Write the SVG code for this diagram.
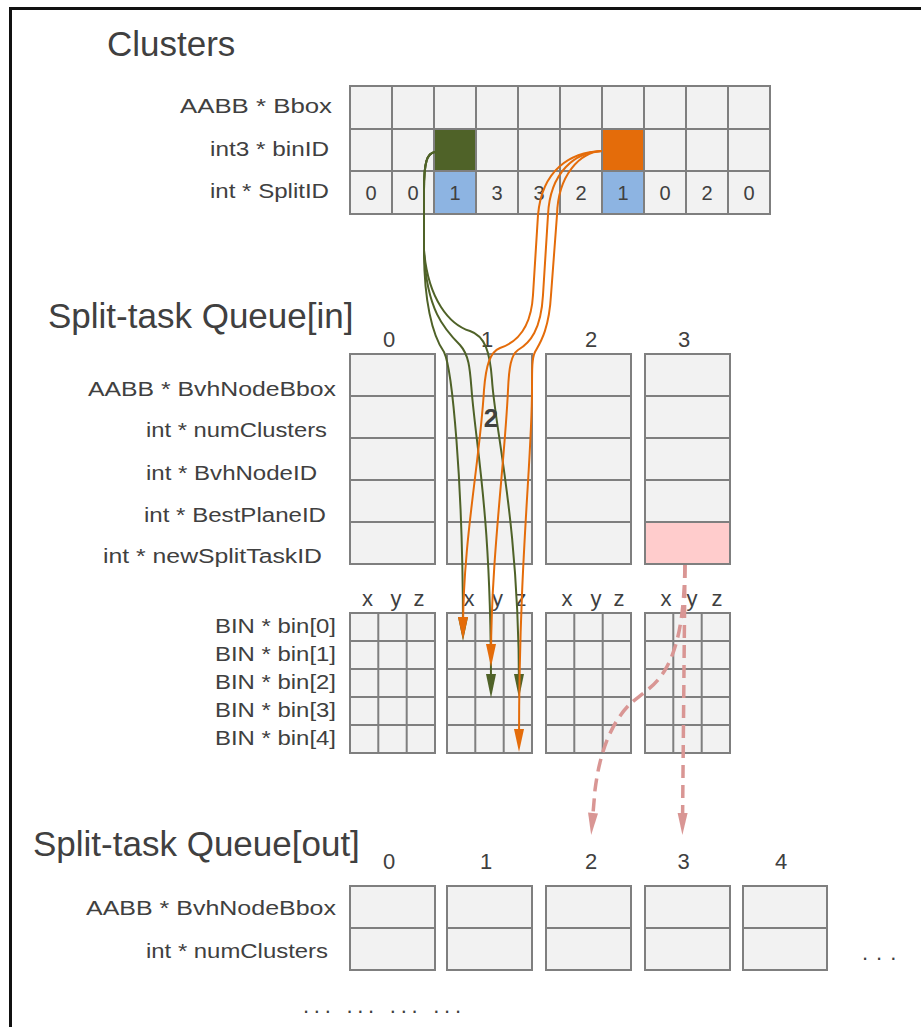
<svg xmlns="http://www.w3.org/2000/svg" width="921" height="1027" viewBox="0 0 921 1027">
<style>
.cell{fill:#F2F2F2;stroke:#7F7F7F;stroke-width:2}
.grid{fill:none;stroke:#7F7F7F;stroke-width:2}
text{font-family:"Liberation Sans",Arial,sans-serif;fill:#404040}
.lbl{font-size:20px}
.bin{font-size:21px}
.title{font-size:35px}
.num{font-size:20px;text-anchor:middle}
.hdr{font-size:22px;text-anchor:middle}
.g{fill:none;stroke:#4F6228;stroke-width:2;marker-end:url(#ag)}
.o{fill:none;stroke:#E46C0A;stroke-width:2;marker-end:url(#ao)}
.p{fill:none;stroke:#D99694;stroke-width:3.5;stroke-dasharray:13 7;marker-end:url(#ap)}
</style>
<defs>
<marker id="ag" markerUnits="userSpaceOnUse" markerWidth="24" markerHeight="10" refX="13" refY="5" orient="auto" overflow="visible"><path d="M0,0L24,5L0,10z" fill="#4F6228"/></marker>
<marker id="ao" markerUnits="userSpaceOnUse" markerWidth="24" markerHeight="10" refX="13" refY="5" orient="auto" overflow="visible"><path d="M0,0L23,5L0,10z" fill="#E46C0A"/></marker>
<marker id="ap" markerUnits="userSpaceOnUse" markerWidth="22" markerHeight="10" refX="12" refY="5" orient="auto" overflow="visible"><path d="M0,0L22,5L0,10z" fill="#D99694"/></marker>
</defs>
<rect width="921" height="1027" fill="#FFFFFF"/>
<path d="M10.5,1040V8.5H940" fill="none" stroke="#111" stroke-width="3"/>

<g id="titles">
<text class="title" x="107" y="56">Clusters</text>
<text class="title" x="48" y="328">Split-task Queue[in]</text>
<text class="title" x="33" y="856">Split-task Queue[out]</text>
</g>

<g id="clusters">
<rect x="350" y="86" width="420" height="128" class="cell"/>
<rect x="434" y="129" width="42" height="42" fill="#4F6228"/>
<rect x="602" y="129" width="42" height="42" fill="#E46C0A"/>
<rect x="434" y="171" width="42" height="43" fill="#8DB4E2"/>
<rect x="602" y="171" width="42" height="43" fill="#8DB4E2"/>
<path class="grid" d="M350,86H770V214H350Z M392,86V214 M434,86V214 M476,86V214 M518,86V214 M560,86V214 M602,86V214 M644,86V214 M686,86V214 M728,86V214 M350,129H770 M350,171H770"/>
<text class="lbl" x="180" y="113" textLength="152" lengthAdjust="spacingAndGlyphs">AABB * Bbox</text>
<text class="lbl" x="210" y="156" textLength="119" lengthAdjust="spacingAndGlyphs">int3 * binID</text>
<text class="lbl" x="210" y="198" textLength="119" lengthAdjust="spacingAndGlyphs">int * SplitID</text>
<text class="num" x="371" y="200">0</text>
<text class="num" x="413" y="200">0</text>
<text class="num" x="455" y="200">1</text>
<text class="num" x="497" y="200">3</text>
<text class="num" x="539" y="200">3</text>
<text class="num" x="581" y="200">2</text>
<text class="num" x="623" y="200">1</text>
<text class="num" x="665" y="200">0</text>
<text class="num" x="707" y="200">2</text>
<text class="num" x="749" y="200">0</text>
</g>

<g id="queue-in-labels">
<text class="lbl" x="88" y="396" textLength="248" lengthAdjust="spacingAndGlyphs">AABB * BvhNodeBbox</text>
<text class="lbl" x="146" y="437" textLength="181" lengthAdjust="spacingAndGlyphs">int * numClusters</text>
<text class="lbl" x="146" y="480" textLength="171" lengthAdjust="spacingAndGlyphs">int * BvhNodeID</text>
<text class="lbl" x="144" y="522" textLength="182" lengthAdjust="spacingAndGlyphs">int * BestPlaneID</text>
<text class="lbl" x="103" y="563" textLength="219" lengthAdjust="spacingAndGlyphs">int * newSplitTaskID</text>
<text class="hdr" x="389" y="347">0</text>
<text class="hdr" x="487" y="347">1</text>
<text class="hdr" x="591" y="347">2</text>
<text class="hdr" x="684" y="347">3</text>
</g>

<g id="queue-in-0">
<rect class="cell" x="350" y="354" width="85" height="210"/>
<path class="grid" d="M350,396H435M350,438H435M350,480H435M350,522H435"/>
</g>
<g id="queue-in-1">
<rect class="cell" x="447" y="354" width="85" height="210"/>
<path class="grid" d="M447,396H532M447,438H532M447,480H532M447,522H532"/>
</g>
<g id="queue-in-2">
<rect class="cell" x="546" y="354" width="85" height="210"/>
<path class="grid" d="M546,396H631M546,438H631M546,480H631M546,522H631"/>
</g>
<g id="queue-in-3">
<rect class="cell" x="645" y="354" width="85" height="210"/>
<rect x="645" y="522" width="85" height="42" fill="#FFCCCC" stroke="#7F7F7F" stroke-width="2"/>
<path class="grid" d="M645,396H730M645,438H730M645,480H730M645,522H730"/>
</g>

<g id="bin-labels">
<text class="bin" x="215" y="633" textLength="121" lengthAdjust="spacingAndGlyphs">BIN * bin[0]</text>
<text class="bin" x="215" y="661" textLength="121" lengthAdjust="spacingAndGlyphs">BIN * bin[1]</text>
<text class="bin" x="215" y="689" textLength="121" lengthAdjust="spacingAndGlyphs">BIN * bin[2]</text>
<text class="bin" x="215" y="717" textLength="121" lengthAdjust="spacingAndGlyphs">BIN * bin[3]</text>
<text class="bin" x="215" y="745" textLength="121" lengthAdjust="spacingAndGlyphs">BIN * bin[4]</text>
</g>

<g id="bins-0">
<text class="hdr" x="367.5" y="606">x</text><text class="hdr" x="396" y="606">y</text><text class="hdr" x="419" y="606">z</text>
<rect class="cell" x="350" y="613" width="85" height="140"/>
<path class="grid" d="M378.3,613V753M406.7,613V753M350,641H435M350,669H435M350,697H435M350,725H435"/>
</g>
<g id="bins-1">
<text class="hdr" x="469" y="606">x</text><text class="hdr" x="497.5" y="606">y</text><text class="hdr" x="521" y="606">z</text>
<rect class="cell" x="447" y="613" width="85" height="140"/>
<path class="grid" d="M475.3,613V753M503.7,613V753M447,641H532M447,669H532M447,697H532M447,725H532"/>
</g>
<g id="bins-2">
<text class="hdr" x="567" y="606">x</text><text class="hdr" x="596" y="606">y</text><text class="hdr" x="619" y="606">z</text>
<rect class="cell" x="546" y="613" width="85" height="140"/>
<path class="grid" d="M574.3,613V753M602.7,613V753M546,641H631M546,669H631M546,697H631M546,725H631"/>
</g>
<g id="bins-3">
<text class="hdr" x="666" y="606">x</text><text class="hdr" x="692" y="606">y</text><text class="hdr" x="717" y="606">z</text>
<rect class="cell" x="645" y="613" width="85" height="140"/>
<path class="grid" d="M673.3,613V753M701.7,613V753M645,641H730M645,669H730M645,697H730M645,725H730"/>
</g>

<g id="queue-out-labels">
<text class="lbl" x="86" y="915" textLength="250" lengthAdjust="spacingAndGlyphs">AABB * BvhNodeBbox</text>
<text class="lbl" x="146" y="958" textLength="182" lengthAdjust="spacingAndGlyphs">int * numClusters</text>
<text class="hdr" x="389" y="869">0</text>
<text class="hdr" x="486" y="869">1</text>
<text class="hdr" x="591" y="869">2</text>
<text class="hdr" x="683.5" y="869">3</text>
<text class="hdr" x="781" y="869">4</text>
<text x="862" y="960" font-size="22" letter-spacing="8">...</text>
<text x="303" y="1013" font-size="22" textLength="158" lengthAdjust="spacing">... ... ... ...</text>
</g>
<g id="queue-out-0"><rect class="cell" x="350" y="886" width="85" height="84"/><path class="grid" d="M350,928H435"/></g>
<g id="queue-out-1"><rect class="cell" x="447" y="886" width="85" height="84"/><path class="grid" d="M447,928H532"/></g>
<g id="queue-out-2"><rect class="cell" x="546" y="886" width="85" height="84"/><path class="grid" d="M546,928H631"/></g>
<g id="queue-out-3"><rect class="cell" x="645" y="886" width="85" height="84"/><path class="grid" d="M645,928H730"/></g>
<g id="queue-out-4"><rect class="cell" x="743" y="886" width="84" height="84"/><path class="grid" d="M743,928H827"/></g>

<g id="connectors">
<path class="g" d="M435,152C427,153 424,162 424,190L424,250C424,300 432,335 444,352C452,368 463,480 463,630"/>
<path class="g" d="M435,152C427,153 424,162 424,190L424,250C426,310 445,330 460,345C470,356 470,372 472,395C478,460 491,520 491,687"/>
<path class="g" d="M435,152C427,153 424,162 424,190L424,250C428,300 450,325 470,331C485,336 490,352 492,380C495,430 519,520 519,687"/>
<path class="o" d="M602,151C570,152 542,170 538,215L533,295C531,330 515,343 500,348C490,352 486,365 484,390C480,460 463,540 463,630"/>
<path class="o" d="M602,151C575,152 550,172 548,215L543,295C541,330 530,343 518,350C511,355 509,367 508,390C505,460 491,560 491,657"/>
<path class="o" d="M602,151C580,152 558,175 557,215L551,295C549,330 540,343 535,352C532,358 532,368 532,390C532,460 519,560 519,742"/>
<path class="p" d="M685,565L682.5,825"/>
<path class="p" d="M685,565C684,610 680,645 665,670C655,687 640,695 630,704C612,722 600,750 595,790L592,825"/>
<text x="491" y="427" font-size="26" font-weight="bold" text-anchor="middle" fill="#333333">2</text>
</g>
</svg>
